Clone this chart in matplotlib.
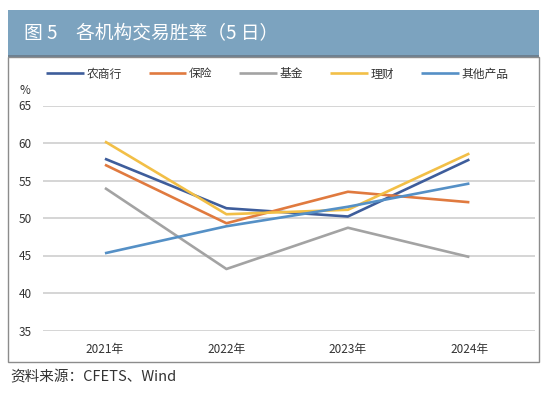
import matplotlib
matplotlib.use('Agg')
import matplotlib.pyplot as plt
from matplotlib.patches import Rectangle

plt.rcParams['font.family'] = ['Noto Sans CJK SC', 'DejaVu Sans']

# 数据
years = ['2021年', '2022年', '2023年', '2024年']
nongshang = [57.9, 51.3, 50.2, 57.8]
baoxian = [57.1, 49.3, 53.5, 52.1]
jijin = [54.0, 43.2, 48.7, 44.8]
licai = [60.2, 50.5, 51.1, 58.6]
qita = [45.3, 48.9, 51.5, 54.6]

series = [
    ('农商行', nongshang, '#3E5D9B'),
    ('保险', baoxian, '#E07A3F'),
    ('基金', jijin, '#A3A3A3'),
    ('理财', licai, '#F2BF47'),
    ('其他产品', qita, '#5590C6'),
]

W, H = 550, 394
fig = plt.figure(figsize=(5.5, 3.94), dpi=100)

# 标题栏
fig.patches.append(Rectangle((8 / W, 1 - 55 / H), 531 / W, 45 / H, transform=fig.transFigure,
                             facecolor='#7CA3BF', edgecolor='none'))
fig.patches.append(Rectangle((8 / W, 1 - 57 / H), 531 / W, 2 / H, transform=fig.transFigure,
                             facecolor='#6C8091', edgecolor='none'))
# 图框
fig.patches.append(Rectangle((8 / W, 1 - 362 / H), 531 / W, 305 / H, transform=fig.transFigure,
                             facecolor='none', edgecolor='#8C8C8C', linewidth=1.0))
fig.text(24 / W, 1 - 34 / H, '图 5', color='white', fontsize=13.5, va='center', ha='left')
fig.text(76 / W, 1 - 34 / H, '各机构交易胜率（5 日）', color='white', fontsize=13.5,
         va='center', ha='left')

ax = fig.add_axes([43 / W, 1 - 330.5 / H, 492 / W, 225 / H])
x = list(range(len(years)))
for name, vals, c in series:
    ax.plot(x, vals, color=c, linewidth=1.9, label=name, solid_capstyle='butt')

ax.set_xlim(-0.51, 3.54)
ax.set_ylim(35, 65)
ax.set_yticks(range(35, 66, 5))
ax.yaxis.grid(True, color='#D2D2D2', linewidth=1.3)
ax.set_axisbelow(True)
ax.set_xticks(x)
ax.set_xticklabels(years)
for s in ax.spines.values():
    s.set_visible(False)
ax.tick_params(axis='both', length=0, labelsize=8.5, colors='#333333')
ax.tick_params(axis='y', pad=8)
ax.tick_params(axis='x', pad=9)

fig.text(25 / W, 1 - 90 / H, '%', fontsize=8.5, color='#333333', ha='center', va='center')

leg = fig.legend(loc='center left', bbox_to_anchor=(46 / W, 1 - 74 / H), ncol=5, frameon=False,
                 fontsize=8.5, handlelength=3.2, handletextpad=0.2, columnspacing=2.3,
                 borderaxespad=0, borderpad=0)
for t in leg.get_texts():
    t.set_color('#333333')

fig.text(10 / W, 1 - 377 / H, '资料来源：CFETS、Wind', fontsize=10.5, color='#333333',
         ha='left', va='center')

fig.savefig('out.png', dpi=100)
